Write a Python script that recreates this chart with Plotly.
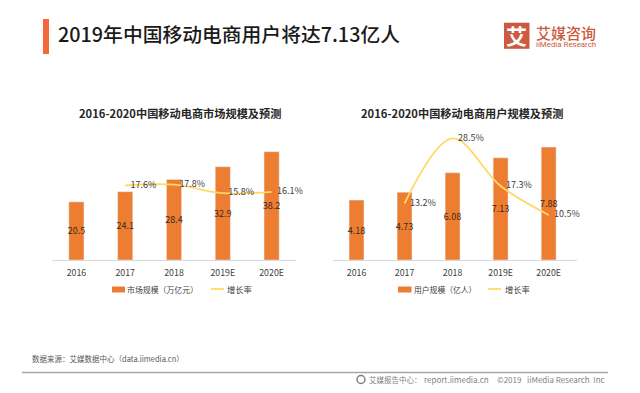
import plotly.graph_objects as go

YEARS = ["2016", "2017", "2018", "2019E", "2020E"]
MARKET = [20.5, 24.1, 28.4, 32.9, 38.2]
MARKET_GROWTH = [None, 17.6, 17.8, 15.8, 16.1]
USERS = [4.18, 4.73, 6.08, 7.13, 7.88]
USERS_LABELS = ["4.18", "4.73", "6.08", "7.13", "7.88"]
USERS_GROWTH = [None, 13.2, 28.5, 17.3, 10.5]
TITLE = "2019年中国移动电商用户将达7.13亿人"
LEFT_TITLE = "2016-2020中国移动电商市场规模及预测"
RIGHT_TITLE = "2016-2020中国移动电商用户规模及预测"
LEFT_NAMES = ["市场规模（万亿元）", "增长率"]
RIGHT_NAMES = ["用户规模（亿人）", "增长率"]
SOURCE = "数据来源：艾媒数据中心（data.iimedia.cn）"
FOOTER_PARTS = ["艾媒报告中心：", "report.iimedia.cn", "©2019", "iiMedia Research  Inc"]

W, H = 640, 393
CJK = "Noto Sans CJK SC"
ORANGE = "#ED7D31"
YELLOW = "#FFD966"
TXT = "#404040"
def px(x): return x / W
def py(y): return 1 - y / H

fig = go.Figure()
def growth_text(v): return [None if g is None else f"{g}%" for g in v]

INVISIBLE = dict(size=7, color="rgba(0,0,0,0)")
# left
fig.add_bar(x=YEARS, y=MARKET, name=LEFT_NAMES[0], marker_color=ORANGE, text=[f"{v}" for v in MARKET],
            textposition="inside", insidetextanchor="middle", textangle=0, constraintext="none",
            textfont=dict(size=9, color="#3a2a1a", family=CJK), xaxis="x", yaxis="y", showlegend=False,
            width=0.31)
fig.add_scatter(x=YEARS, y=MARKET_GROWTH, name=LEFT_NAMES[1], mode="lines+markers+text", text=growth_text(MARKET_GROWTH),
                textposition="middle right", textfont=dict(size=9, color=TXT, family=CJK), marker=INVISIBLE,
                line=dict(color=YELLOW, width=1.8, shape="spline"), xaxis="x", yaxis="y2", showlegend=False,
                cliponaxis=False)
# right
fig.add_bar(x=YEARS, y=USERS, name=RIGHT_NAMES[0], marker_color=ORANGE, text=USERS_LABELS,
            textposition="inside", insidetextanchor="middle", textangle=0, constraintext="none",
            textfont=dict(size=9, color="#3a2a1a", family=CJK), xaxis="x2", yaxis="y3", showlegend=False,
            width=0.31)
fig.add_scatter(x=YEARS, y=USERS_GROWTH, name=RIGHT_NAMES[1], mode="lines+markers+text", text=growth_text(USERS_GROWTH),
                textposition="middle right", textfont=dict(size=9, color=TXT, family=CJK), marker=INVISIBLE,
                line=dict(color=YELLOW, width=1.8, shape="spline"), xaxis="x2", yaxis="y4", showlegend=False,
                cliponaxis=False)

PLOT_TOP, PLOT_BOT = 120, 260
dom_y = [py(PLOT_BOT), py(PLOT_TOP)]
h = PLOT_BOT - PLOT_TOP
tick = dict(type="category", tickfont=dict(size=8.8, color=TXT, family=CJK), showgrid=False,
            ticks="outside", ticklen=4, tickcolor="rgba(0,0,0,0)",
            showline=True, linecolor="#D9D9D9", linewidth=1, zeroline=False)
fig.update_layout(
    width=W, height=H, margin=dict(l=0, r=0, t=0, b=0), paper_bgcolor="white", plot_bgcolor="white",
    showlegend=False, font=dict(family=CJK), bargap=0.69,
    xaxis=dict(domain=[px(52), px(296)], range=[-0.5, 4.5], **tick),
    xaxis2=dict(domain=[px(332.5), px(576.5)], range=[-0.5, 4.58], anchor="y3", **tick),
    yaxis=dict(domain=dom_y, range=[0, h / 2.835], visible=False),
    yaxis2=dict(domain=dom_y, overlaying="y", side="right", range=[17.6 - (260 - 185.5) / 4.25, 17.6 + (185.5 - 120) / 4.25], visible=False),
    yaxis3=dict(domain=dom_y, anchor="x2", range=[0, h / 14.33], visible=False),
    yaxis4=dict(domain=dom_y, anchor="x2", overlaying="y3", side="right",
                range=[13.2 - (260 - 203.5) / 4.25, 13.2 + (203.5 - 120) / 4.25], visible=False),
)

shapes, anns = [], []
def rect(x0, y0, x1, y1, color, **kw):
    shapes.append(dict(type="rect", xref="paper", yref="paper", x0=px(x0), x1=px(x1), y0=py(y0), y1=py(y1),
                       fillcolor=color, line_width=0, **kw))
def line(x0, y0, x1, y1, color, width):
    shapes.append(dict(type="line", xref="paper", yref="paper", x0=px(x0), x1=px(x1), y0=py(y0), y1=py(y1),
                       line=dict(color=color, width=width)))
def text(x, y, s, size, color="#262626", anchor="left", bold=False, family=CJK, weight=None):
    f = dict(size=size, color=color, family=family)
    if weight:
        f["weight"] = weight
    anns.append(dict(xref="paper", yref="paper", x=px(x), y=py(y), text=f"<b>{s}</b>" if bold else s, showarrow=False,
                     xanchor=anchor, yanchor="middle", font=f, borderpad=0))

rect(43, 19, 49, 54, "#F4683A")
text(57, 33, TITLE, 19.8, "#1a1a1a", weight=500)
text(179.5, 113, LEFT_TITLE, 11.2, "#262626", "center", True)
text(462, 113, RIGHT_TITLE, 11.2, "#262626", "center", True)

# legends
rect(112, 286.5, 125, 292.5, ORANGE)
text(126, 289, LEFT_NAMES[0], 7.9, TXT)
line(211, 289, 224, 289, YELLOW, 1.8)
text(226, 289, LEFT_NAMES[1], 8.3, TXT)
rect(398, 286.5, 411.5, 292.5, ORANGE)
text(412.5, 289, RIGHT_NAMES[0], 7.8, TXT)
line(488, 289, 501, 289, YELLOW, 1.8)
text(504, 289, RIGHT_NAMES[1], 8.3, TXT)

# source & footer
text(31, 358, SOURCE, 7.5, "#595959")
line(22, 372.5, 608, 372.5, "#A6A6A6", 1.5)
shapes.append(dict(type="circle", xref="paper", yref="paper", x0=px(357), x1=px(365), y0=py(383.5), y1=py(375.5),
                   fillcolor="white", line=dict(color="#7f7f7f", width=1.5)))
text(368, 379, FOOTER_PARTS[0], 7.5, "#7f7f7f")
text(423, 379, FOOTER_PARTS[1], 8, "#7f7f7f")
text(496, 379, FOOTER_PARTS[2], 8, "#7f7f7f")
text(526, 379, FOOTER_PARTS[3], 8, "#7f7f7f")

# logo
shapes.append(dict(type="rect", xref="paper", yref="paper", x0=px(504), x1=px(529.5), y0=py(48.8), y1=py(22.7),
                   fillcolor="#CC5A3E", line_width=0))
text(516.8, 35.5, "艾", 21, "white", "center", True)
text(535, 32, "艾媒咨询", 15, "#CC5A3E", weight=500)
text(535, 45, "iiMedia Research", 7.9, "#CC5A3E", family="Roboto")

fig.update_layout(shapes=shapes, annotations=anns)
fig.write_html("out.html", post_script="document.body.style.margin='0';", config={"displayModeBar": False})
